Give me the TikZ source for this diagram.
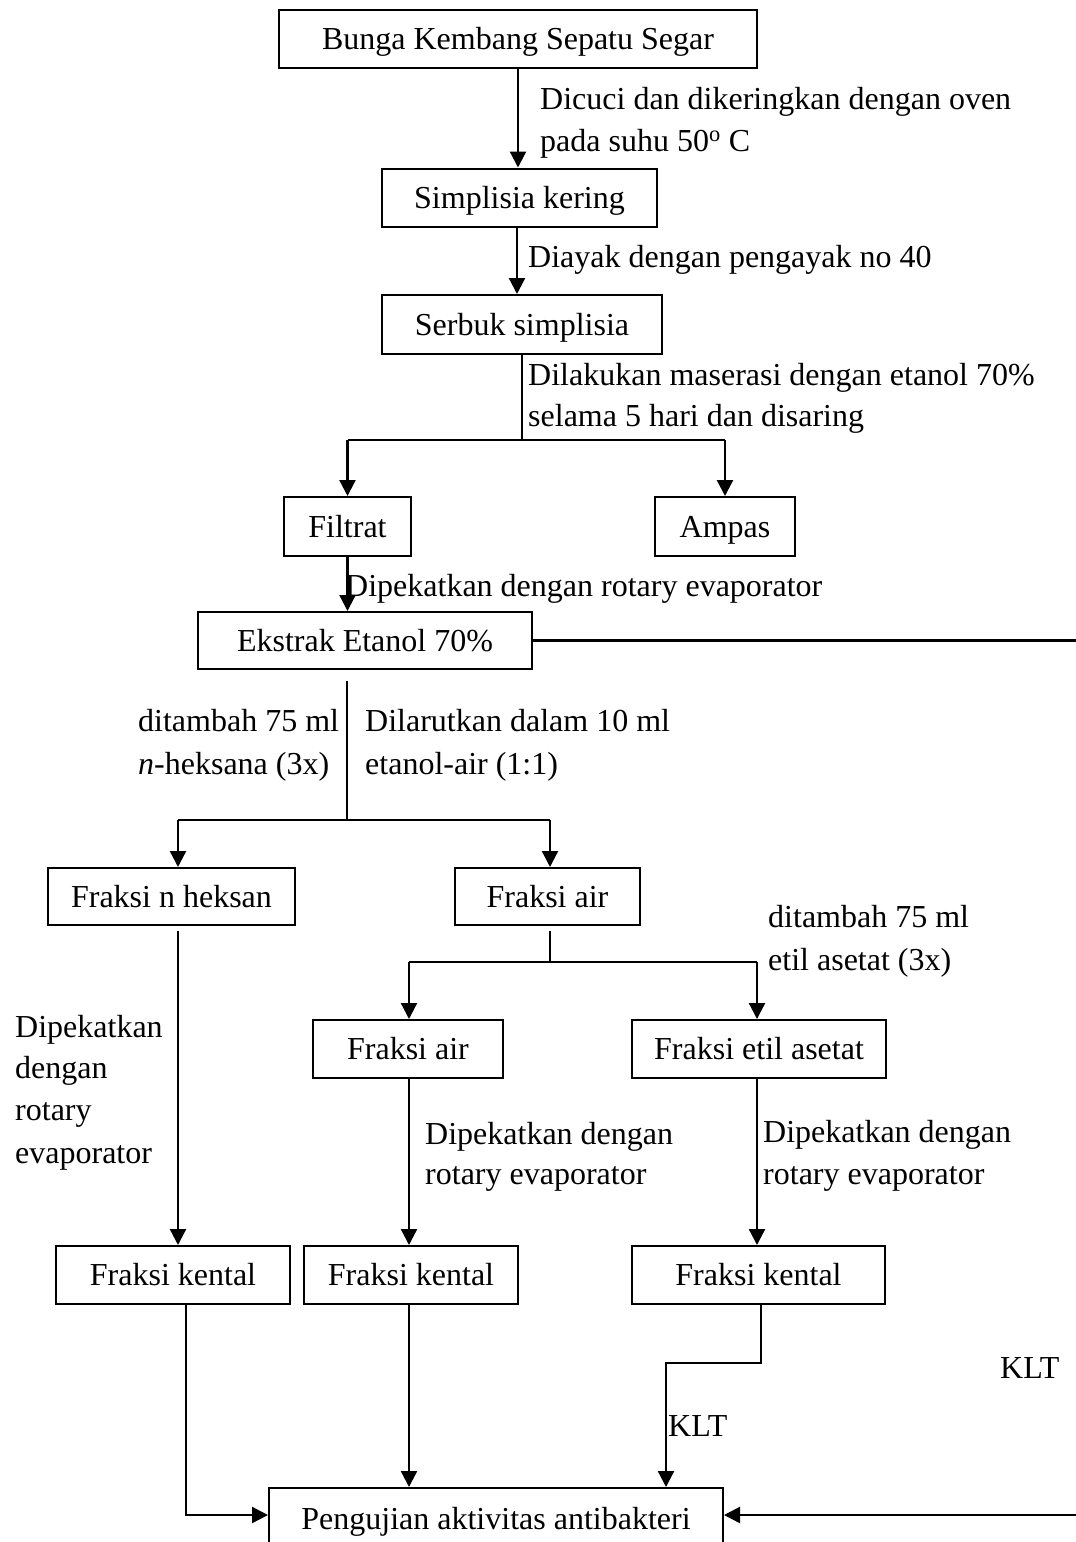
\documentclass[tikz,border=0pt]{standalone}
\usepackage{fontspec}
\setmainfont{Liberation Serif}
\usetikzlibrary{arrows.meta}
\newcommand\diafont{\fontsize{32}{42}\selectfont}
\begin{document}
\begin{tikzpicture}[x=1pt,y=-1pt,
  box/.style={draw, line width=2pt, inner sep=0pt, font=\diafont, text height=25pt, text depth=4pt},
  ln/.style={line width=2.3pt},
  arr/.style={line width=2.3pt, -{Triangle[length=16pt,width=16pt]}},
  lbl/.style={anchor=base west, inner sep=0pt, font=\diafont}]
\useasboundingbox (0,0) rectangle (1076,1542);
% boxes
\node[box, minimum width=478pt, minimum height=58pt] (b1) at (518,39) {Bunga Kembang Sepatu Segar};
\node[box, minimum width=275pt, minimum height=58pt] (b2) at (519.5,197.5) {Simplisia kering};
\node[box, minimum width=280pt, minimum height=59pt] (b3) at (522,324.5) {Serbuk simplisia};
\node[box, minimum width=127pt, minimum height=59pt] (b4) at (347.5,526.5) {Filtrat};
\node[box, minimum width=140pt, minimum height=59pt] (b5) at (725,526.5) {Ampas};
\node[box, minimum width=334pt, minimum height=57pt] (b6) at (365,640.5) {Ekstrak Etanol 70\%};
\node[box, minimum width=247pt, minimum height=57pt] (b7) at (171.5,896.5) {Fraksi n heksan};
\node[box, minimum width=185pt, minimum height=57pt] (b8) at (547.5,896.5) {Fraksi air};
\node[box, minimum width=190pt, minimum height=58pt] (b9) at (408,1049) {Fraksi air};
\node[box, minimum width=254pt, minimum height=58pt] (b10) at (759,1049) {Fraksi etil asetat};
\node[box, minimum width=234pt, minimum height=58pt] (b11) at (173,1275) {Fraksi kental};
\node[box, minimum width=214pt, minimum height=58pt] (b12) at (411,1275) {Fraksi kental};
\node[box, minimum width=253pt, minimum height=58pt] (b13) at (758.5,1275) {Fraksi kental};
\node[box, minimum width=454pt, minimum height=61pt] (b14) at (496,1518.5) {Pengujian aktivitas antibakteri};
% coordinates
\coordinate (s1) at (522,440);
\coordinate (rtop) at (1076,642);
\coordinate (s2) at (347,820);
\coordinate (s2l) at (178,820);
\coordinate (s2r) at (550,820);
\coordinate (s3) at (550,962);
\coordinate (s3l) at (409,962);
\coordinate (s3r) at (757,962);
\coordinate (c11) at (186,1515);
\coordinate (c13a) at (761,1363);
\coordinate (c13b) at (666,1363);
\coordinate (rbot) at (1076,1515);
% connectors
\draw[arr] (b1.south) -- (b1.south |- b2.north);
\draw[arr] ([xshift=-2.5pt]b2.south) -- ([xshift=-2.5pt]b2.south |- b3.north);
\draw[ln] (b3.south) -- (s1);
\draw[ln] (b4.north |- s1) -- (b5.north |- s1);
\draw[arr] (b4.north |- s1) -- (b4.north);
\draw[arr] (b5.north |- s1) -- (b5.north);
\draw[arr] (b4.south) -- (b4.south |- b6.north);
\draw[ln] (b6.east) -- (b6.east -| rtop);
\draw[ln] ([yshift=-11pt]b6.south -| s2) -- (s2);
\draw[ln] (s2l) -- (s2r);
\draw[arr] (s2l) -- (s2l |- b7.north);
\draw[arr] (s2r) -- (s2r |- b8.north);
\draw[ln] ([yshift=-5pt]b8.south -| s3) -- (s3);
\draw[ln] (s3l) -- (s3r);
\draw[arr] (s3l) -- (s3l |- b9.north);
\draw[arr] (s3r) -- (s3r |- b10.north);
\draw[arr] ([yshift=-5pt]b7.south -| s2l) -- (s2l |- b11.north);
\draw[arr] (s3l |- b9.south) -- (s3l |- b12.north);
\draw[arr] (s3r |- b10.south) -- (s3r |- b13.north);
\draw[arr] (c11 |- b11.south) -- (c11) -- (c11 -| b14.west);
\draw[arr] (s3l |- b12.south) -- (s3l |- b14.north);
\draw[arr] (c13a |- b13.south) -- (c13a) -- (c13b) -- (c13b |- b14.north);
\draw[arr] (rbot) -- (rbot -| b14.east);
% labels
\node[lbl] (t1a) at (540,109) {Dicuci dan dikeringkan dengan oven};
\node[lbl] (t1b) at (540,151) {pada suhu 50\textsuperscript{o} C};
\node[lbl] (t2) at (528,267) {Diayak dengan pengayak no 40};
\node[lbl] (t3a) at (528,385) {Dilakukan maserasi dengan etanol 70\%};
\node[lbl] (t3b) at (528,426) {selama 5 hari dan disaring};
\node[lbl] (t4) at (345,596) {Dipekatkan dengan rotary evaporator};
\node[lbl] (t5a) at (138,731) {ditambah 75 ml};
\node[lbl] (t5b) at (138,774) {\textit{n}-heksana (3x)};
\node[lbl] (t6a) at (365,731) {Dilarutkan dalam 10 ml};
\node[lbl] (t6b) at (365,774) {etanol-air (1:1)};
\node[lbl] (t7a) at (768,927) {ditambah 75 ml};
\node[lbl] (t7b) at (768,970) {etil asetat (3x)};
\node[lbl] (t8a) at (15,1037) {Dipekatkan};
\node[lbl] (t8b) at (15,1078) {dengan};
\node[lbl] (t8c) at (15,1120) {rotary};
\node[lbl] (t8d) at (15,1163) {evaporator};
\node[lbl] (t9a) at (425,1144) {Dipekatkan dengan};
\node[lbl] (t9b) at (425,1184) {rotary evaporator};
\node[lbl] (t10a) at (763,1142) {Dipekatkan dengan};
\node[lbl] (t10b) at (763,1184) {rotary evaporator};
\node[lbl] (t11) at (1000,1378) {KLT};
\node[lbl] (t12) at (668,1436) {KLT};
\end{tikzpicture}
\end{document}
